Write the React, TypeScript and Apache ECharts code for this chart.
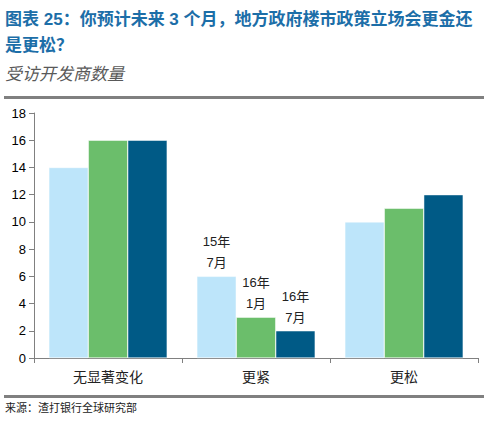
import React, { useEffect, useRef } from 'react';
import * as echarts from 'echarts';

const categories = ['无显著变化', '更紧', '更松'];
const seriesNames = ['15年7月', '16年1月', '16年7月'];
const labelTexts = ['15年\n7月', '16年\n1月', '16年\n7月'];
const values2015Jul = [14, 6, 10];
const values2016Jan = [16, 3, 11];
const values2016Jul = [16, 2, 12];
const colors = ['#BDE5FA', '#6BBE6B', '#005A86'];
const labelledIndex = 1; // only the "更紧" group carries labels

const TEXT_FONT = '"Liberation Sans", Arial, "Noto Sans CJK SC", sans-serif';

const App: React.FC = () => {
  const chartRef = useRef<HTMLDivElement>(null);

  useEffect(() => {
    if (!chartRef.current) return;
    const chart = echarts.init(chartRef.current, null, { renderer: 'svg' });

    const allValues = [values2015Jul, values2016Jan, values2016Jul];

    chart.setOption({
      animation: false,
      textStyle: { fontFamily: TEXT_FONT },
      grid: { left: 34, right: 10, top: 113, bottom: 65, containLabel: false },
      xAxis: {
        type: 'category',
        data: categories,
        axisLine: { lineStyle: { color: '#808080', width: 1 } },
        axisTick: { show: true, length: 5, lineStyle: { color: '#808080' } },
        axisLabel: { color: '#222', fontSize: 14, margin: 12 },
      },
      yAxis: {
        type: 'value',
        min: 0,
        max: 18,
        interval: 2,
        splitLine: { show: false },
        axisLine: { show: true, lineStyle: { color: '#808080', width: 1 } },
        axisTick: { show: true, length: 5, lineStyle: { color: '#808080' } },
        axisLabel: { color: '#000', fontSize: 13, margin: 8 },
      },
      series: seriesNames.map((name, i) => ({
        name,
        type: 'bar',
        barGap: '0%',
        barCategoryGap: '20%',
        itemStyle: { color: colors[i], borderColor: '#ffffff', borderWidth: 0.5 },
        data: allValues[i].map((v, j) =>
          j === labelledIndex
            ? {
                value: v,
                label: {
                  show: true,
                  position: 'top',
                  formatter: labelTexts[i],
                  color: '#222',
                  fontSize: 13,
                  lineHeight: 21,
                  distance: 3,
                },
              }
            : v
        ),
      })),
      graphic: [
        {
          type: 'text',
          left: 5,
          top: 11,
          style: {
            text: '图表 25：你预计未来 3 个月，地方政府楼市政策立场会更金还',
            fontSize: 17,
            fontWeight: 'bold',
            fill: '#1C6EA8',
            fontFamily: TEXT_FONT,
          },
        },
        {
          type: 'text',
          left: 5,
          top: 37,
          style: {
            text: '是更松？',
            fontSize: 17,
            fontWeight: 'bold',
            fill: '#1C6EA8',
            fontFamily: TEXT_FONT,
          },
        },
        {
          type: 'text',
          left: 5,
          top: 66,
          style: {
            text: '受访开发商数量',
            fontSize: 17,
            fontStyle: 'italic',
            fill: '#595959',
            fontFamily: TEXT_FONT,
          },
        },
        {
          type: 'rect',
          left: 4,
          top: 96,
          shape: { width: 480, height: 3 },
          style: { fill: '#808080' },
        },
        {
          type: 'rect',
          left: 4,
          top: 395,
          shape: { width: 480, height: 3 },
          style: { fill: '#808080' },
        },
        {
          type: 'text',
          left: 5,
          top: 402,
          style: {
            text: '来源：渣打银行全球研究部',
            fontSize: 11,
            fill: '#222',
            fontFamily: TEXT_FONT,
          },
        },
      ],
    });

    return () => {
      chart.dispose();
    };
  }, []);

  return (
    <div
      ref={chartRef}
      style={{ position: 'fixed', left: 0, top: 0, width: '488px', height: '423px', background: '#fff' }}
    ></div>
  );
};

export default App;
